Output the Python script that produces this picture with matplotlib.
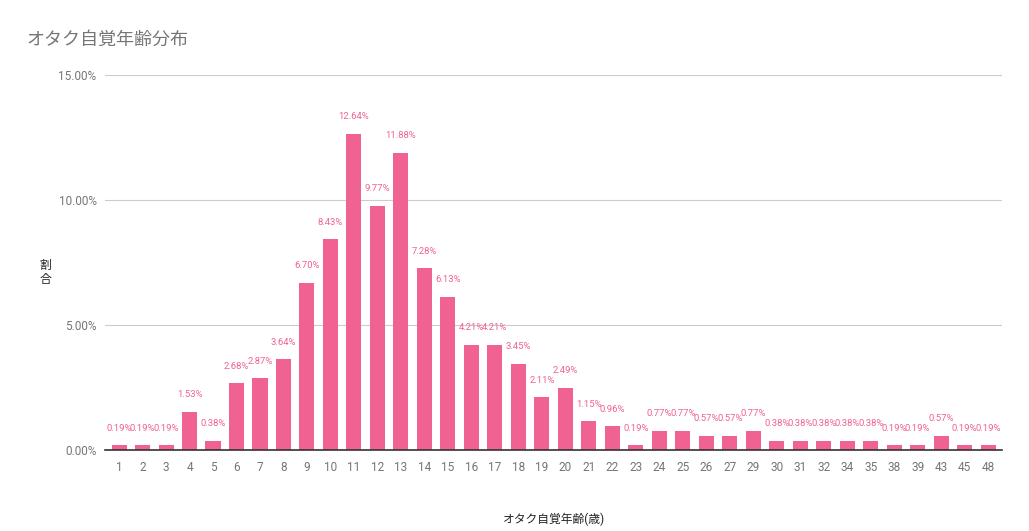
import matplotlib
matplotlib.use("Agg")
import matplotlib.pyplot as plt
from matplotlib.ticker import FuncFormatter, MultipleLocator

plt.rcParams['font.family'] = ['Roboto', 'Noto Sans CJK JP', 'DejaVu Sans']

ages = ['1', '2', '3', '4', '5', '6', '7', '8', '9', '10', '11', '12', '13', '14',
        '15', '16', '17', '18', '19', '20', '21', '22', '23', '24', '25', '26', '27',
        '29', '30', '31', '32', '34', '35', '38', '39', '43', '45', '48']
shares = [0.19, 0.19, 0.19, 1.53, 0.38, 2.68, 2.87, 3.64, 6.70, 8.43, 12.64, 9.77,
          11.88, 7.28, 6.13, 4.21, 4.21, 3.45, 2.11, 2.49, 1.15, 0.96, 0.19, 0.77,
          0.77, 0.57, 0.57, 0.77, 0.38, 0.38, 0.38, 0.38, 0.38, 0.19, 0.19, 0.57,
          0.19, 0.19]

bar_color = '#F06292'
label_color = '#F06292'
grey = '#757575'

fig = plt.figure(figsize=(10.29, 5.31), dpi=100)
ax = fig.add_axes([0.102, 0.1525, 0.872, 0.7063])

x = list(range(len(ages)))
ax.bar(x, shares, width=0.64, color=bar_color, zorder=3)
for xi, v in zip(x, shares):
    ax.annotate(f'{v:.2f}%', (xi, v), xytext=(0, 9), textcoords='offset points',
                ha='center', va='bottom', fontsize=6.8, color=label_color, zorder=4)

ax.set_ylim(0, 15)
ax.set_xlim(-0.6, len(ages) - 0.4)
ax.yaxis.set_major_locator(MultipleLocator(5))
ax.yaxis.set_major_formatter(FuncFormatter(lambda v, p: f'{v:.2f}%'))
ax.set_xticks(x)
ax.set_xticklabels(ages)
ax.grid(axis='y', color='#CCCCCC', linewidth=0.8, zorder=0)
for s in ['top', 'right', 'left']:
    ax.spines[s].set_visible(False)
ax.spines['bottom'].set_color('#333333')
ax.spines['bottom'].set_linewidth(1.2)
ax.spines['bottom'].set_zorder(5)
ax.tick_params(axis='both', length=0, labelsize=8.5, labelcolor=grey)
ax.tick_params(axis='x', pad=8)
ax.tick_params(axis='y', pad=6)

ax.set_xlabel('オタク自覚年齢(歳)', fontsize=8.5, color='#222222', labelpad=28)
fig.text(0.044, 0.487, '割\n合', fontsize=8.5, color='#222222', ha='center', va='center',
         linespacing=1.1)
fig.text(0.026, 0.925, 'オタク自覚年齢分布', fontsize=13, color=grey, ha='left', va='center')

fig.savefig('out.png', dpi=100)
